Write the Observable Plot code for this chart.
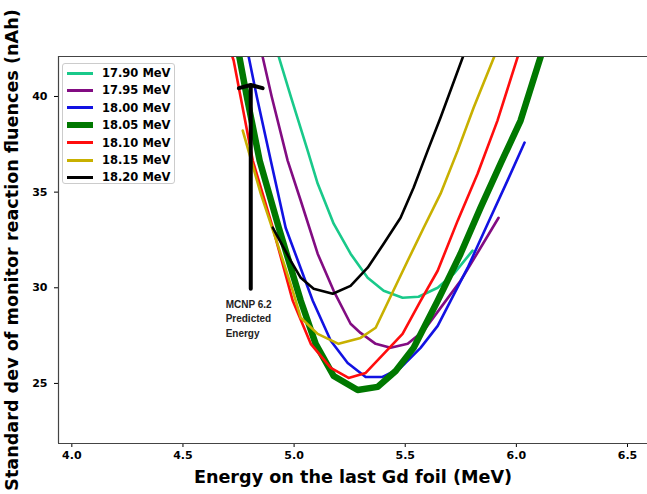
<!DOCTYPE html>
<html><head><meta charset="utf-8">
<script src="https://cdn.jsdelivr.net/npm/d3@7"></script>
<script src="https://cdn.jsdelivr.net/npm/@observablehq/plot@0.6"></script>
<style>
body{margin:0;background:#fff;}
#wrap{position:relative;width:647px;height:494px;}
#legend{position:absolute;left:62px;top:63px;width:113px;height:121px;border:1px solid #cccccc;border-radius:3px;background:rgba(255,255,255,0.9);font-family:"DejaVu Sans";font-weight:bold;font-size:11.5px;box-sizing:border-box;}
.sw{position:absolute;left:4px;width:26px;}
.lab{position:absolute;left:39px;white-space:nowrap;line-height:14px;height:14px;color:#000;}
</style>
</head><body>
<div id="wrap"><div id="legend"></div></div>
<script>
// ---- data ----
const seriesNames = ["17.90 MeV","17.95 MeV","18.00 MeV","18.05 MeV","18.10 MeV","18.15 MeV","18.20 MeV"];
const seriesColors = ["#19c98a","#820c82","#1212e2","#007800","#ff0d0d","#c8b000","#000000"];
const seriesWidths = [2.6, 2.6, 2.6, 6.5, 2.6, 2.6, 2.6];

const e1790 = [4.92, 4.985, 5.061, 5.106, 5.178, 5.254, 5.331, 5.403, 5.488, 5.56, 5.646, 5.718, 5.803];
const s1790 = [42.5, 40.0, 37.17, 35.45, 33.35, 31.78, 30.52, 29.84, 29.48, 29.53, 30.0, 30.73, 31.94];

const e1795 = [4.85, 4.899, 4.971, 5.03, 5.106, 5.178, 5.254, 5.299, 5.367, 5.434, 5.511, 5.583, 5.659, 5.749, 5.839, 5.92];
const s1795 = [42.5, 40.0, 36.65, 34.55, 31.78, 29.84, 28.12, 27.64, 27.07, 26.86, 27.07, 27.75, 28.95, 30.37, 32.09, 33.66];

const e1800 = [4.79, 4.832, 4.895, 4.962, 5.084, 5.165, 5.241, 5.322, 5.398, 5.479, 5.569, 5.646, 5.704, 5.781, 5.871, 5.96, 6.037];
const s1800 = [42.4, 40.0, 36.65, 33.14, 29.32, 27.23, 26.07, 25.34, 25.34, 25.81, 26.86, 28.01, 29.32, 31.05, 33.35, 35.6, 37.59];

const e1805 = [4.75, 4.787, 4.845, 4.931, 5.03, 5.097, 5.178, 5.286, 5.376, 5.457, 5.538, 5.646, 5.749, 5.839, 5.929, 6.019, 6.118];
const s1805 = [42.3, 40.0, 36.65, 33.14, 29.32, 27.07, 25.39, 24.66, 24.82, 25.65, 26.86, 29.32, 31.78, 34.19, 36.49, 38.74, 42.4];

const e1810 = [4.716, 4.728, 4.814, 4.904, 4.994, 5.075, 5.165, 5.245, 5.322, 5.403, 5.488, 5.569, 5.646, 5.736, 5.826, 5.915, 6.015];
const s1810 = [42.3, 41.88, 36.65, 33.14, 29.32, 27.07, 25.81, 25.29, 25.55, 26.54, 27.59, 29.32, 30.89, 33.51, 35.97, 38.74, 42.4];

const e1815 = [4.769, 4.85, 4.931, 4.994, 5.03, 5.106, 5.2, 5.299, 5.367, 5.425, 5.511, 5.583, 5.659, 5.736, 5.808, 5.915];
const s1815 = [38.22, 34.92, 32.09, 29.84, 28.43, 27.59, 27.07, 27.38, 27.91, 29.32, 31.41, 33.14, 34.92, 37.17, 39.42, 42.5];

const e1820 = [4.904, 4.985, 5.03, 5.088, 5.174, 5.254, 5.331, 5.403, 5.479, 5.538, 5.601, 5.659, 5.77];
const s1820 = [33.14, 31.41, 30.52, 29.95, 29.69, 30.1, 31.05, 32.3, 33.66, 35.24, 37.17, 38.9, 42.4];

const xTicks = [4.0, 4.5, 5.0, 5.5, 6.0, 6.5];
const yTicks = [25, 30, 35, 40];
const xDomain = [3.94, 6.59];
const yDomain = [21.86, 42.09];
const xLabel = "Energy on the last Gd foil (MeV)";
const yLabel = "Standard dev of monitor reaction fluences (nAh)";

const arrowX = [4.805];
const arrowFromY = [29.95];
const arrowToY = [40.6];
const noteText = ["MCNP 6.2\nPredicted\nEnergy"];
const noteX = [4.692];
const noteY = [29.5];

// ---- build ----
const energies = [e1790, e1795, e1800, e1805, e1810, e1815, e1820];
const stdevs = [s1790, s1795, s1800, s1805, s1810, s1815, s1820];

const lineMarks = seriesNames.map((name, i) => {
  const rows = energies[i].map((e, j) => ({x: e, y: stdevs[i][j]}));
  return Plot.line(rows, {x: "x", y: "y", stroke: seriesColors[i], strokeWidth: seriesWidths[i], clip: true, strokeLinejoin: "round"});
});

const chart = Plot.plot({
  width: 647, height: 494,
  marginLeft: 58, marginRight: 0, marginTop: 56, marginBottom: 51,
  style: {fontFamily: "DejaVu Sans", fontWeight: "bold", fontSize: "11px", background: "transparent", color: "#000"},
  x: {domain: xDomain, ticks: xTicks, tickFormat: d3.format(".1f"), tickSize: 4, tickPadding: 4, label: null},
  y: {domain: yDomain, ticks: yTicks, tickFormat: d3.format("d"), tickSize: 4, tickPadding: 7, label: null},
  marks: [
    ...lineMarks,
    Plot.ruleY([yDomain[0], yDomain[1]], {stroke: "#444", strokeWidth: 1.2}),
    Plot.ruleX([xDomain[0]], {stroke: "#444", strokeWidth: 1.2}),
    Plot.arrow(arrowX.map((x, i) => ({x, y1: arrowFromY[i], y2: arrowToY[i]})), {
      x1: "x", x2: "x", y1: "y1", y2: "y2", stroke: "#000", strokeWidth: 4, headAngle: 150, headLength: 4.6
    }),
    Plot.text(noteText, {x: () => noteX[0], y: () => noteY[0], textAnchor: "start", lineAnchor: "top",
      fontFamily: "Liberation Sans", fontWeight: "bold", fontSize: 10, lineHeight: 1.45, fill: "#222"}),
    Plot.text([xLabel], {frameAnchor: "bottom", textAnchor: "middle", dy: 34, fontSize: 17.6, fontWeight: "bold", lineAnchor: "middle"}),
    Plot.text([yLabel], {frameAnchor: "left", textAnchor: "middle", dx: -46, rotate: -90, fontSize: 17.6, fontWeight: "bold", lineAnchor: "middle"})
  ]
});
document.getElementById("wrap").prepend(chart);

// legend
const legend = document.getElementById("legend");
seriesNames.forEach((name, i) => {
  const cy = 9 + i * 17.4;
  const sw = document.createElement("div");
  sw.className = "sw";
  const h = seriesWidths[i] > 4 ? 6 : 3;
  sw.style.height = h + "px";
  sw.style.top = (cy - h / 2) + "px";
  sw.style.background = seriesColors[i];
  legend.appendChild(sw);
  const lab = document.createElement("div");
  lab.className = "lab";
  lab.style.top = (cy - 7) + "px";
  lab.textContent = name;
  legend.appendChild(lab);
});
</script>
</body></html>
